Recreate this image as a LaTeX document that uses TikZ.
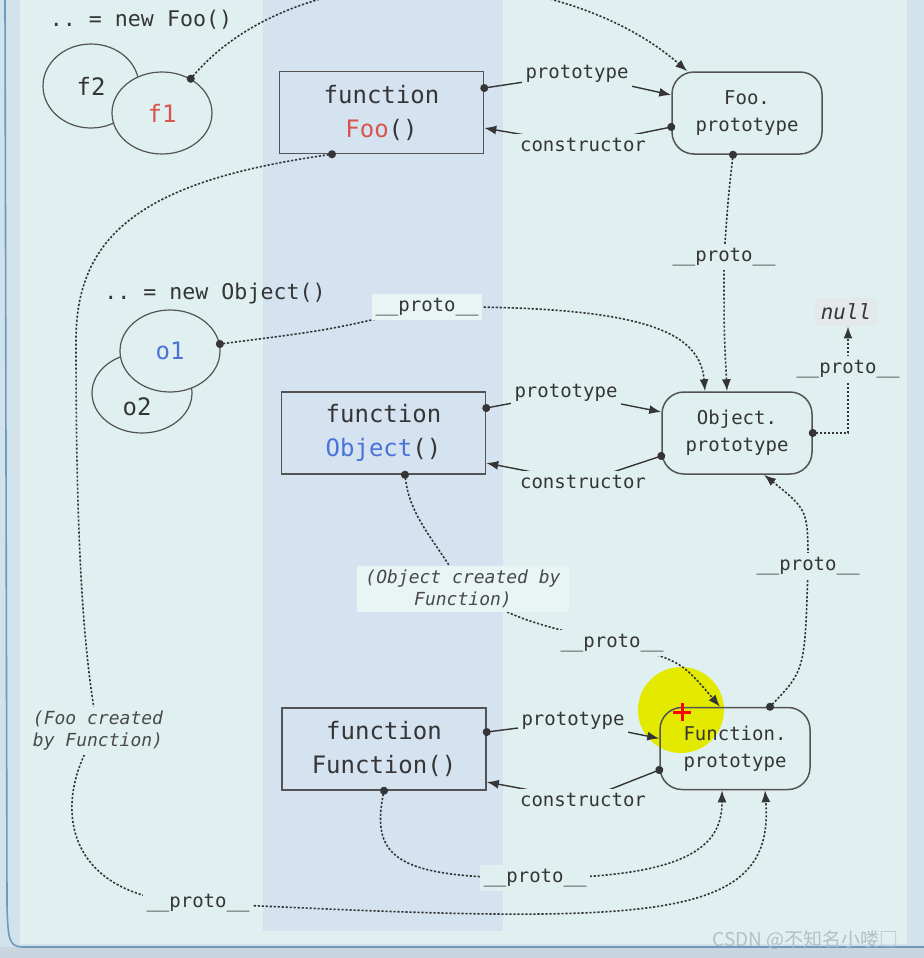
\documentclass[tikz,border=0pt]{standalone}
\usepackage{fontspec}
\setmonofont{DejaVu Sans Mono}
\newfontfamily\cjkfont{Noto Sans CJK SC}
\usepackage{tikz}
\usetikzlibrary{positioning}
\usetikzlibrary{shapes.geometric}
\usetikzlibrary{arrows.meta}

\definecolor{bgmain}{HTML}{E0F0F1}
\definecolor{bgcol}{HTML}{D5E3F0}
\definecolor{bgframe}{HTML}{D2E2EC}
\definecolor{bgouter}{HTML}{C9D6E0}
\definecolor{framelinecol}{HTML}{6F98BD}
\definecolor{inkcol}{HTML}{353535}
\definecolor{foored}{HTML}{D9534F}
\definecolor{objblue}{HTML}{4A72D8}
\definecolor{hilite}{HTML}{E3EA00}
\definecolor{lightbox}{HTML}{E9F4F4}
\definecolor{nullbg}{HTML}{E3E8EA}
\definecolor{wmcol}{HTML}{B4BEC8}

\begin{document}
\begin{tikzpicture}
	[x=0.5pt, y=-0.5pt,
	 fnbox/.style={rectangle, draw=inkcol!85, line width=0.75pt, minimum width=102pt, minimum height=41pt, inner sep=0pt, align=center, font=\ttfamily\fontsize{12}{17}\selectfont, text=inkcol},
	 protobox/.style={rectangle, rounded corners=11pt, draw=inkcol!85, line width=0.75pt, minimum width=75pt, minimum height=41pt, inner sep=0pt, align=center, font=\ttfamily\fontsize{9.5}{13.5}\selectfont, text=inkcol},
	 inst/.style={ellipse, draw=inkcol!85, line width=0.6pt, fill=bgmain, inner sep=0pt, font=\ttfamily\fontsize{12}{14}\selectfont, text=inkcol},
	 lbl/.style={font=\ttfamily\fontsize{9.5}{11}\selectfont, text=inkcol, fill=bgmain, inner sep=2pt},
	 note/.style={font=\ttfamily\itshape\fontsize{9}{11}\selectfont, text=inkcol!90, fill=bgmain, align=center, inner sep=2pt},
	 head/.style={font=\ttfamily\fontsize{10.8}{12}\selectfont, text=inkcol},
	 link/.style={draw=inkcol, line width=0.7pt, {Circle[length=4pt]}-{Latex[length=6pt,width=4.5pt]}, shorten <=-2pt},
	 protolink/.style={link, line width=0.8pt, dash pattern=on 1.1pt off 0.9pt}]
	\useasboundingbox (0,0) rectangle (924,958);
	\clip (0,0) rectangle (924,958);
	% window and columns
	\fill[bgouter] (0,0) rectangle (924,958);
	\fill[bgframe] (0,0) rectangle (924,947);
	\fill[bgmain] (20,0) rectangle (907,944);
	\fill[bgcol] (263,0) rectangle (503,931);
	\draw[framelinecol, line width=0.8pt] (5,0) -- (7,905) .. controls (8,940) and (9,946) .. (22,947) -- (924,947);
	\fill[hilite] (681,710) circle [radius=43];

	% instances
	\node[head] (newFoo) at (141,20) {.. = new Foo()};
	\node[inst, minimum width=48pt, minimum height=42pt] (f2) at (91,86) {f2};
	\node[inst, minimum width=50pt, minimum height=41pt, text=foored] (f1) at (162,113) {f1};
	\node[head] (newObj) at (215,294) {.. = new Object()};
	\node[inst, minimum width=50pt, minimum height=40pt] (o2) at (142,393) {};
	\node[font=\ttfamily\fontsize{12}{14}\selectfont, text=inkcol] (o2txt) at (137,407) {o2};
	\node[inst, minimum width=50pt, minimum height=41pt, text=objblue] (o1) at (170,351) {o1};

	% functions and prototypes
	\node[fnbox] (fnFoo) at (381.5,112.5) {function\\\textcolor{foored}{Foo}()};
	\node[protobox] (fooP) at (747,113) {Foo.\\prototype};
	\node[fnbox] (fnObject) at (383.5,433) {function\\\textcolor{objblue}{Object}()};
	\node[protobox] (objP) at (737,433) {Object.\\prototype};
	\node[fnbox] (fnFunction) at (384,749) {function\\Function()};
	\node[protobox] (funP) at (735,748.5) {Function.\\prototype};
	\node[font=\ttfamily\itshape\fontsize{10.4}{12}\selectfont, fill=nullbg, text=inkcol, inner sep=3pt] (null) at (846,312) {null};

	% prototype / constructor
	\draw[link] ([yshift=12.25pt]fnFoo.east) -- (577,74) node[lbl] (lp1) {prototype} -- ([yshift=9pt]fooP.west);
	\draw[link] ([yshift=-7pt]fooP.west) -- (583,145) node[lbl] (lc1) {constructor} -- ([yshift=-7.75pt]fnFoo.east);
	\draw[link] ([yshift=12.5pt]fnObject.east) -- (566,393) node[lbl] (lp2) {prototype} -- ([yshift=10.5pt]objP.west);
	\draw[link] ([yshift=-11.5pt]objP.west) -- (583,482) node[lbl] (lc2) {constructor} -- ([yshift=-15pt]fnObject.east);
	\draw[link] ([yshift=8.5pt]fnFunction.east) -- (573,721) node[lbl] (lp3) {prototype} -- ([yshift=5pt]funP.west);
	\draw[link] ([yshift=-10.75pt]funP.west) -- (583,800) node[lbl] (lc3) {constructor} -- ([yshift=-16.5pt]fnFunction.east);

	% __proto__ chain
	\draw[protolink] (f1.50) .. controls (300,-50) and (560,-40) .. (fooP.145);
	\draw[protolink] ([xshift=-7pt]fooP.south) .. controls (728,200) .. (724,257) node[lbl] (pFoo) {\_\_proto\_\_} .. controls (724,330) .. ([xshift=-5pt]objP.north);
	\draw[protolink] (o1.8) .. controls (330,330) .. (427,307) node[lbl, fill=lightbox] (pO1) {\_\_proto\_\_} .. controls (640,305) and (700,330) .. ([xshift=-16pt]objP.north);
	\draw[protolink] (objP.east) -| node[lbl, pos=0.8] (pNull) {\_\_proto\_\_} ([xshift=1pt]null.south);
	\draw[protolink] ([xshift=10.75pt]fnObject.south) .. controls (410,520) and (440,545) .. (463,589) node[note, fill=lightbox, inner xsep=4pt] (noteObj) {(Object created by\\Function)} .. controls (520,620) .. (612,643) node[lbl] (pObj) {\_\_proto\_\_} .. controls (680,660) .. ([xshift=-7.5pt]funP.north);
	\draw[protolink] ([xshift=17.5pt]funP.north) .. controls (805,670) .. (808,566) node[lbl] (pFunObj) {\_\_proto\_\_} .. controls (808,510) .. ([xshift=13.5pt]objP.south);
	\draw[protolink] (fnFunction.south) .. controls (370,860) and (400,878) .. (535,878) node[lbl] (pFun) {\_\_proto\_\_} .. controls (700,878) and (722,840) .. ([xshift=-6.5pt]funP.south);
	\draw[protolink] ([xshift=-24.75pt]fnFoo.south) .. controls (150,180) and (76,230) .. (76,340) .. controls (76,500) and (80,640) .. (98,731) node[note] (noteFoo) {(Foo created\\by Function)} .. controls (50,800) and (60,900) .. (198,903) node[lbl] (pFoo2) {\_\_proto\_\_} .. controls (650,925) and (775,925) .. ([xshift=15pt]funP.south);

	% cursor mark and watermark
	\draw[red, line width=1.5pt] (673,712) -- (691,712) (682,703) -- (682,721);
	\node[font=\cjkfont\fontsize{9.5}{11}\selectfont, text=wmcol, anchor=east] (wm) at (906,940) {CSDN @不知名小喽□};
\end{tikzpicture}
\end{document}
